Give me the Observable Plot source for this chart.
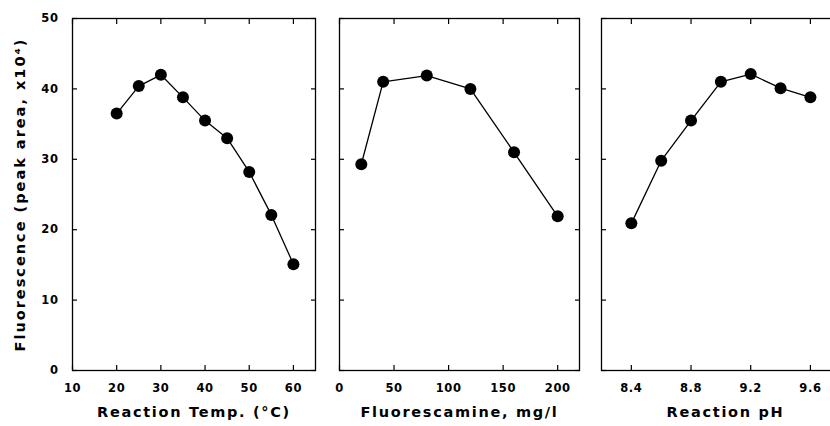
<!DOCTYPE html>
<html>
<head>
<meta charset="utf-8">
<script src="https://cdn.jsdelivr.net/npm/d3@7"></script>
<script src="https://cdn.jsdelivr.net/npm/@observablehq/plot@0.6"></script>
<style>
  html, body { margin: 0; padding: 0; background: #fff; overflow: hidden; }
  #wrap { position: relative; width: 830px; height: 426px; overflow: hidden; }
  #wrap svg { position: absolute; top: 0; overflow: visible; max-width: none; }
</style>
</head>
<body>
<div id="wrap"></div>
<script>
const yLabel = "Fluorescence (peak area, x10⁴)";
const yTicks = [0, 10, 20, 30, 40, 50];

const tempLabel = "Reaction Temp. (°C)";
const tempTicks = [10, 20, 30, 40, 50, 60];
const tempX = [20, 25, 30, 35, 40, 45, 50, 55, 60];
const tempY = [36.5, 40.4, 42.0, 38.8, 35.5, 33.0, 28.2, 22.1, 15.1];

const fluorLabel = "Fluorescamine, mg/l";
const fluorTicks = [0, 50, 100, 150, 200];
const fluorX = [20, 40, 80, 120, 160, 200];
const fluorY = [29.3, 41.0, 41.9, 40.0, 31.0, 21.9];

const phLabel = "Reaction pH";
const phTicks = [8.4, 8.8, 9.2, 9.6];
const phX = [8.4, 8.6, 8.8, 9.0, 9.2, 9.4, 9.6];
const phY = [20.9, 29.8, 35.5, 41.0, 42.1, 40.1, 38.8];

const FONT = "DejaVu Sans, sans-serif";
const H = 426, MT = 18, MB = 56;

function panel({xs, ys, xDomain, xTicks, xFormat, label, left, width, mL, mR, showYLabels, rightTicks}) {
  const data = xs.map((x, i) => ({x, y: ys[i]}));
  const marks = [
    Plot.frame({stroke: "black", strokeWidth: 1.3}),
    Plot.axisX({anchor: "bottom", ticks: xTicks, tickSize: -5, tickPadding: 18, tickFormat: xFormat,
      fontSize: 11.5, fontWeight: "bold", label: null, strokeWidth: 1.2}),
    Plot.axisX({anchor: "top", ticks: xTicks, tickSize: -5, fill: "none", label: null, strokeWidth: 1.2}),
    showYLabels
      ? Plot.axisY({anchor: "left", ticks: yTicks, tickSize: -5, tickPadding: 19, fontSize: 11.5,
          fontWeight: "bold", label: null, strokeWidth: 1.2})
      : Plot.axisY({anchor: "left", ticks: yTicks, tickSize: -5, fill: "none", label: null, strokeWidth: 1.2}),
    Plot.line(data, {x: "x", y: "y", stroke: "black", strokeWidth: 1.3}),
    Plot.dot(data, {x: "x", y: "y", r: 6, fill: "black", stroke: "none"}),
    Plot.text([label], {text: d => d, frameAnchor: "bottom", lineAnchor: "top", dy: 36,
      fontSize: 14.5, fontWeight: "bold", fill: "black"})
  ];
  if (rightTicks) marks.push(Plot.axisY({anchor: "right", ticks: yTicks, tickSize: -5, fill: "none", label: null, strokeWidth: 1.2}));
  if (showYLabels) marks.push(Plot.text([yLabel], {text: d => d, frameAnchor: "left", rotate: -90, dx: -52,
      textAnchor: "middle", lineAnchor: "middle", fontSize: 14.5, fontWeight: "bold", fill: "black"}));
  const svg = Plot.plot({
    width, height: H,
    marginTop: MT, marginBottom: MB, marginLeft: mL, marginRight: mR,
    style: {fontFamily: FONT, color: "black", background: "transparent", letterSpacing: "0.6px"},
    x: {domain: xDomain},
    y: {domain: [0, 50]},
    marks
  });
  d3.select(svg).selectAll("text").each(function () {
    const t = this.textContent;
    if (t === label) this.setAttribute("letter-spacing", "1.7px");
    if (t === yLabel) this.setAttribute("letter-spacing", "2.0px");
  });
  svg.style.left = left + "px";
  return svg;
}

const wrap = document.getElementById("wrap");
wrap.appendChild(panel({xs: tempX, ys: tempY, xDomain: [10, 65], xTicks: tempTicks, xFormat: d3.format("d"),
  label: tempLabel, left: 0, width: 325, mL: 72, mR: 10, showYLabels: true, rightTicks: true}));
wrap.appendChild(panel({xs: fluorX, ys: fluorY, xDomain: [0, 220], xTicks: fluorTicks, xFormat: d3.format("d"),
  label: fluorLabel, left: 325, width: 264, mL: 14, mR: 10, showYLabels: false, rightTicks: true}));
wrap.appendChild(panel({xs: phX, ys: phY, xDomain: [8.2, 9.862], xTicks: phTicks, xFormat: d3.format(".1f"),
  label: phLabel, left: 589, width: 260, mL: 12, mR: 0, showYLabels: false, rightTicks: false}));
</script>
</body>
</html>
